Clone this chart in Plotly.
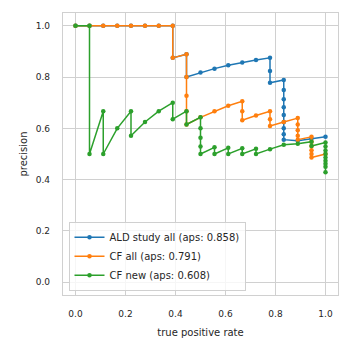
import plotly.graph_objects as go

# ---- data ----
ald_recall = [0.0, 0.056, 0.111, 0.167, 0.222, 0.278, 0.333, 0.389, 0.389, 0.444, 0.444,
              0.5, 0.556, 0.611, 0.667, 0.722, 0.778, 0.778, 0.778,
              0.833, 0.833, 0.833, 0.833, 0.833, 0.833, 0.833, 0.833, 0.833,
              0.889, 0.944, 1.0]
ald_precision = [1.0, 1.0, 1.0, 1.0, 1.0, 1.0, 1.0, 1.0, 0.875, 0.889, 0.8,
                 0.818, 0.833, 0.846, 0.857, 0.867, 0.875, 0.824, 0.778,
                 0.789, 0.75, 0.714, 0.682, 0.652, 0.625, 0.6, 0.577, 0.556,
                 0.552, 0.56, 0.567]

cf_all_recall = [0.0, 0.056, 0.111, 0.167, 0.222, 0.278, 0.333, 0.389, 0.389, 0.444,
                 0.444, 0.444, 0.444, 0.444,
                 0.5, 0.556, 0.611, 0.667, 0.667, 0.667, 0.722, 0.778, 0.778, 0.778,
                 0.833, 0.889, 0.889, 0.889, 0.889, 0.889,
                 0.944, 0.944, 0.944, 0.944, 0.944, 0.944, 1.0]
cf_all_precision = [1.0, 1.0, 1.0, 1.0, 1.0, 1.0, 1.0, 1.0, 0.875, 0.889,
                    0.8, 0.727, 0.667, 0.615,
                    0.643, 0.667, 0.688, 0.706, 0.667, 0.632, 0.65, 0.667, 0.636, 0.609,
                    0.625, 0.64, 0.615, 0.593, 0.571, 0.556,
                    0.567, 0.548, 0.531, 0.515, 0.5, 0.486, 0.5]

cf_new_recall = [0.0, 0.056, 0.056, 0.111, 0.111, 0.167, 0.222, 0.222, 0.278, 0.333,
                 0.389, 0.389, 0.444, 0.444, 0.5, 0.5, 0.5, 0.5, 0.5,
                 0.556, 0.556, 0.611, 0.611, 0.667, 0.667, 0.722, 0.722,
                 0.778, 0.833, 0.889, 0.944, 0.944, 1.0,
                 1.0, 1.0, 1.0, 1.0, 1.0, 1.0, 1.0, 1.0]
cf_new_precision = [1.0, 1.0, 0.5, 0.667, 0.5, 0.6, 0.667, 0.571, 0.625, 0.667,
                    0.7, 0.636, 0.667, 0.615, 0.643, 0.6, 0.563, 0.529, 0.5,
                    0.526, 0.5, 0.524, 0.5, 0.522, 0.5, 0.52, 0.5,
                    0.519, 0.536, 0.54, 0.548, 0.531, 0.545,
                    0.529, 0.514, 0.5, 0.486, 0.474, 0.462, 0.45, 0.429]

labels = ["ALD study all (aps: 0.858)", "CF all (aps: 0.791)", "CF new (aps: 0.608)"]
colors = ["#1f77b4", "#ff7f0e", "#2ca02c"]
tick_vals = [0.0, 0.2, 0.4, 0.6, 0.8, 1.0]
tick_text = ["0.0", "0.2", "0.4", "0.6", "0.8", "1.0"]

series = [(ald_recall, ald_precision), (cf_all_recall, cf_all_precision),
          (cf_new_recall, cf_new_precision)]

fig = go.Figure()
for (r, p), name, c in zip(series, labels, colors):
    fig.add_trace(go.Scatter(x=r, y=p, mode="lines+markers", name=name,
                             line=dict(color=c, width=1.5),
                             marker=dict(color=c, size=4.5)))

grid = "#d0d0d0"
axis_common = dict(
    showgrid=True, gridcolor=grid, gridwidth=1.3,
    showline=True, linecolor=grid, linewidth=1.3, mirror=True,
    zeroline=False, ticks="", tickvals=tick_vals, ticktext=tick_text,
    tickfont=dict(size=9, color="#262626", family="DejaVu Sans"),
    ticklabelstandoff=10,
)
fig.update_layout(
    width=352, height=352,
    margin=dict(l=63, r=14, t=13, b=57),
    plot_bgcolor="white", paper_bgcolor="white",
    font=dict(family="DejaVu Sans", size=10, color="#262626"),
    xaxis=dict(range=[-0.05, 1.05], title=dict(text="true positive rate", standoff=11,
               font=dict(size=10)), **axis_common),
    yaxis=dict(range=[-0.05, 1.05], title=dict(text="precision", standoff=6,
               font=dict(size=10)), **axis_common),
    legend=dict(x=0.02, y=0.015, xanchor="left", yanchor="bottom",
                bgcolor="rgba(255,255,255,0.8)", bordercolor=grid, borderwidth=1,
                font=dict(size=10, color="#262626"), tracegroupgap=0, itemwidth=30),
    showlegend=True,
)
fig.write_html("out.html")
